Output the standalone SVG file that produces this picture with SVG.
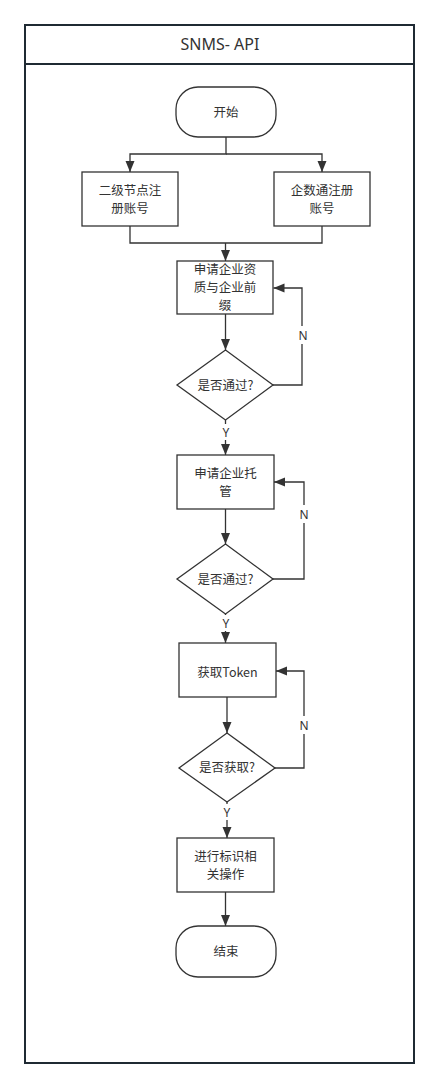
<svg xmlns="http://www.w3.org/2000/svg" width="439" height="1089" viewBox="0 0 439 1089">
<style>
.frame{fill:#ffffff;stroke:#1f2a33;stroke-width:2}
.node{fill:#ffffff;stroke:#333333;stroke-width:1.3}
.t{font-family:"Noto Sans CJK SC","Noto Sans",sans-serif;font-size:12.5px;fill:#333333;text-anchor:middle}
.title{font-family:"Noto Sans","Noto Sans CJK SC",sans-serif;font-size:16px;fill:#333333;text-anchor:middle}
.lbl{font-family:"Noto Sans","Liberation Sans",sans-serif;font-size:12px;fill:#333333;text-anchor:middle}
.c{fill:none;stroke:#333333;stroke-width:1.3}
.bg{fill:#ffffff}
</style>
<defs>
<marker id="arr" markerUnits="userSpaceOnUse" markerWidth="12" markerHeight="10" refX="11" refY="5" orient="auto">
<path d="M0,0.5 L11,5 L0,9.5 z" fill="#333333"/>
</marker>
</defs>
<rect width="439" height="1089" fill="#ffffff"/>
<g id="pool">
<rect class="frame" x="25" y="25" width="389" height="1038"/>
<line x1="25" y1="64" x2="414" y2="64" stroke="#1f2a33" stroke-width="2"/>
<text class="title" x="220" y="50">SNMS- API</text>
</g>
<g id="connectors">
<path class="c" d="M226,137 V154 H130 V172" marker-end="url(#arr)"/>
<path class="c" d="M226,154 H322 V172" marker-end="url(#arr)"/>
<path class="c" d="M130,226 V243 H322 V226"/>
<path class="c" d="M225.5,243 V261" marker-end="url(#arr)"/>
<path class="c" d="M225.5,314 V350" marker-end="url(#arr)"/>
<path class="c" d="M273,385 H302 V288 H273.5" marker-end="url(#arr)"/>
<path class="c" d="M225.5,420 V455" marker-end="url(#arr)"/>
<path class="c" d="M225.5,509 V544" marker-end="url(#arr)"/>
<path class="c" d="M273,579 H304 V482 H274" marker-end="url(#arr)"/>
<path class="c" d="M225.5,614 V643" marker-end="url(#arr)"/>
<path class="c" d="M227,697 V733" marker-end="url(#arr)"/>
<path class="c" d="M275,768 H304 V671 H276" marker-end="url(#arr)"/>
<path class="c" d="M227,802 V838" marker-end="url(#arr)"/>
<path class="c" d="M225.5,892 V926" marker-end="url(#arr)"/>
<rect class="bg" x="296" y="326" width="14" height="18"/>
<text class="lbl" x="303" y="339.5">N</text>
<rect class="bg" x="297" y="505" width="14" height="18"/>
<text class="lbl" x="304" y="518.5">N</text>
<rect class="bg" x="297" y="716" width="14" height="18"/>
<text class="lbl" x="304" y="729.5">N</text>
<rect class="bg" x="219" y="424" width="14" height="16"/>
<text class="lbl" x="226" y="436.5">Y</text>
<rect class="bg" x="219" y="615" width="14" height="16"/>
<text class="lbl" x="226" y="627.5">Y</text>
<rect class="bg" x="220" y="804" width="14" height="16"/>
<text class="lbl" x="227" y="816.5">Y</text>
</g>
<g id="start">
<rect class="node" x="176" y="87" width="100" height="50" rx="22" ry="22"/>
<text class="t" x="226" y="116.5">开始</text>
</g>
<g id="reg-secondary">
<rect class="node" x="82" y="172" width="96" height="54"/>
<text class="t" x="130" y="194.5">二级节点注<tspan x="130" dy="18.2">册账号</tspan></text>
</g>
<g id="reg-qishutong">
<rect class="node" x="274" y="172" width="96" height="54"/>
<text class="t" x="322" y="194.5">企数通注册<tspan x="322" dy="18.2">账号</tspan></text>
</g>
<g id="apply-qualification">
<rect class="node" x="177" y="261" width="96" height="53"/>
<text class="t" x="225" y="273.8">申请企业资<tspan x="225" dy="18.2">质与企业前</tspan><tspan x="225" dy="18.2">缀</tspan></text>
</g>
<g id="check1">
<polygon class="node" points="225.5,350 273,385 225.5,420 177,385"/>
<text class="t" x="225.5" y="389.5">是否通过?</text>
</g>
<g id="apply-hosting">
<rect class="node" x="177" y="455" width="97" height="54"/>
<text class="t" x="225.5" y="477.5">申请企业托<tspan x="225.5" dy="18.2">管</tspan></text>
</g>
<g id="check2">
<polygon class="node" points="225.5,544 273,579 225.5,614 177,579"/>
<text class="t" x="225.5" y="584">是否通过?</text>
</g>
<g id="get-token">
<rect class="node" x="179" y="643" width="97" height="54"/>
<text class="t" x="227.5" y="676.5">获取Token</text>
</g>
<g id="check3">
<polygon class="node" points="227,733 275,768 227,802 179,768"/>
<text class="t" x="227" y="772">是否获取?</text>
</g>
<g id="operate">
<rect class="node" x="177" y="838" width="97" height="54"/>
<text class="t" x="225.5" y="860.5">进行标识相<tspan x="225.5" dy="18.2">关操作</tspan></text>
</g>
<g id="end">
<rect class="node" x="176" y="926" width="100" height="51" rx="22" ry="22"/>
<text class="t" x="226" y="956">结束</text>
</g>
</svg>
